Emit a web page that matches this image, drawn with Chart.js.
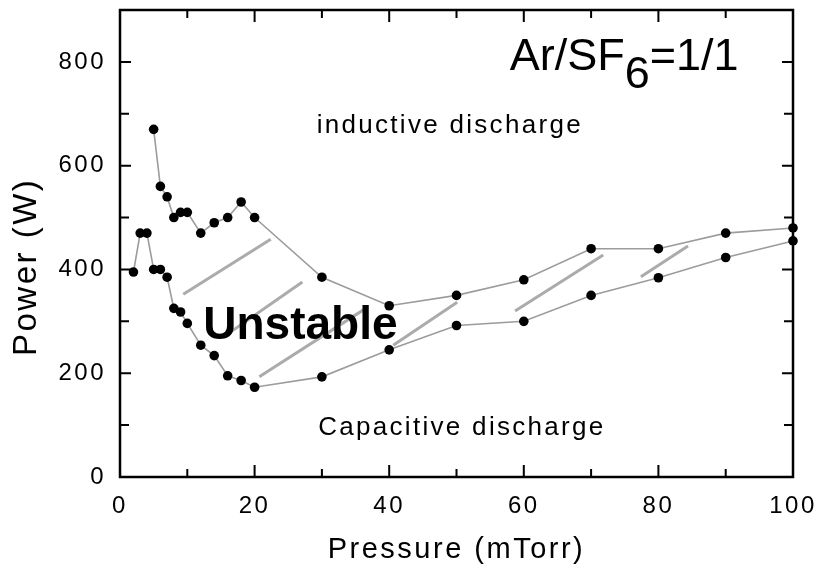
<!DOCTYPE html>
<html>
<head>
<meta charset="utf-8">
<script src="https://cdn.jsdelivr.net/npm/chart.js@4/dist/chart.umd.min.js"></script>
<style>
  html, body { margin: 0; padding: 0; background: #fff; }
  canvas { display: block; }
</style>
</head>
<body>
<canvas id="powerChart" width="819" height="566"></canvas>
<script>
// Boundary between inductive and capacitive discharge (Ar/SF6 = 1/1)
const upperPressure = [5, 6, 7, 8, 9, 10, 12, 14, 16, 18, 20, 30, 40, 50, 60, 70, 80, 90, 100];
const upperPower = [670, 560, 540, 500, 510, 510, 470, 490, 500, 530, 500, 385, 330, 350, 380, 440, 440, 470, 480];

const lowerPressure = [2, 3, 4, 5, 6, 7, 8, 9, 10, 12, 14, 16, 18, 20, 30, 40, 50, 60, 70, 80, 90, 100];
const lowerPower = [395, 470, 470, 400, 400, 385, 325, 318, 296, 254, 234, 195, 186, 173, 193, 245, 292, 300, 350, 384, 423, 455];

// hatching of the unstable region: [x1, y1, x2, y2]
const hatchLines = [
    [9.4, 352, 22.4, 458],
    [15.6, 272, 27.1, 376],
    [20.7, 193, 36.4, 324],
    [40.6, 254, 50.1, 337],
    [58.7, 320, 71.8, 428],
    [77.4, 386, 84.4, 445]
];

// axis ticks
const xTicks = [0, 20, 40, 60, 80, 100];
const xMinorTicks = [10, 30, 50, 70, 90];
const yTicks = [0, 200, 400, 600, 800];
const yMinorTicks = [100, 300, 500, 700];

const FONT = "'Liberation Sans', Arial, Helvetica, sans-serif";

// text placed inside the plot (data coordinates)
const notes = [
    { text: 'inductive discharge', x: 49.0, y: 662, size: 26, spacing: '2.3px', weight: 'normal' },
    { text: 'Capacitive discharge', x: 50.8, y: 81, size: 26, spacing: '2.3px', weight: 'normal' },
    { text: 'Unstable', x: 26.8, y: 266, size: 46, spacing: '0px', weight: 'bold' }
];
const ratioLabel = { x: 57.9, y: 784, size: 45 };

function toPoints(xs, ys) {
    return xs.map((v, i) => ({ x: v, y: ys[i] }));
}

const curveStyle = {
    showLine: true,
    borderColor: '#9c9c9c',
    borderWidth: 1.6,
    pointRadius: 4.8,
    pointHoverRadius: 4.8,
    pointBackgroundColor: '#000',
    pointBorderWidth: 0,
    clip: false,
    order: 1
};

const datasets = [
    { label: 'upper', data: toPoints(upperPressure, upperPower), ...curveStyle },
    { label: 'lower', data: toPoints(lowerPressure, lowerPower), ...curveStyle }
];
hatchLines.forEach((l, i) => {
    datasets.push({
        label: 'hatch' + i,
        data: [{ x: l[0], y: l[1] }, { x: l[2], y: l[3] }],
        showLine: true,
        borderColor: '#ababab',
        borderWidth: 3,
        pointRadius: 0,
        clip: false,
        order: 2
    });
});

// frame with inward ticks on all four sides
const frame = {
    id: 'frame',
    beforeDraw(chart) {
        chart.ctx.letterSpacing = '2.5px';
    },
    beforeDatasetsDraw(chart) {
        const { ctx, chartArea: a, scales: { x, y } } = chart;
        ctx.save();
        ctx.strokeStyle = '#000';
        ctx.lineWidth = 2.5;
        ctx.strokeRect(a.left, a.top, a.right - a.left, a.bottom - a.top);
        ctx.lineWidth = 2;
        ctx.beginPath();
        const xMark = (v, len) => {
            const px = x.getPixelForValue(v);
            ctx.moveTo(px, a.bottom); ctx.lineTo(px, a.bottom - len);
            ctx.moveTo(px, a.top); ctx.lineTo(px, a.top + len);
        };
        const yMark = (v, len) => {
            const py = y.getPixelForValue(v);
            ctx.moveTo(a.left, py); ctx.lineTo(a.left + len, py);
            ctx.moveTo(a.right, py); ctx.lineTo(a.right - len, py);
        };
        xTicks.forEach(v => xMark(v, 12));
        xMinorTicks.forEach(v => xMark(v, 8));
        yTicks.forEach(v => yMark(v, 11));
        yMinorTicks.forEach(v => yMark(v, 9));
        ctx.stroke();
        ctx.restore();
    },
    afterDatasetsDraw(chart) {
        const { ctx, scales: { x, y } } = chart;
        ctx.save();
        ctx.fillStyle = '#000';
        ctx.textBaseline = 'alphabetic';
        notes.forEach(n => {
            ctx.font = `${n.weight} ${n.size}px ${FONT}`;
            ctx.letterSpacing = n.spacing;
            ctx.textAlign = 'center';
            ctx.fillText(n.text, x.getPixelForValue(n.x), y.getPixelForValue(n.y));
        });
        // Ar/SF6=1/1 with the lowered 6
        ctx.font = `${ratioLabel.size}px ${FONT}`;
        ctx.letterSpacing = '0px';
        ctx.textAlign = 'left';
        let px = x.getPixelForValue(ratioLabel.x);
        const py = y.getPixelForValue(ratioLabel.y);
        ctx.fillText('Ar/SF', px, py);
        px += ctx.measureText('Ar/SF').width;
        ctx.fillText('6', px, py + 18);
        px += ctx.measureText('6').width;
        ctx.fillText('=1/1', px, py);
        ctx.restore();
    }
};

const ctx = document.getElementById('powerChart').getContext('2d');
new Chart(ctx, {
    type: 'scatter',
    data: { datasets: datasets },
    options: {
        responsive: false,
        animation: false,
        events: [],
        layout: { padding: { top: 10, right: 26, left: 0, bottom: 0 } },
        plugins: {
            legend: { display: false },
            tooltip: { enabled: false }
        },
        scales: {
            x: {
                type: 'linear',
                min: 0,
                max: 100,
                afterBuildTicks: s => { s.ticks = xTicks.map(v => ({ value: v })); },
                afterFit: s => { s.height = 89; s.paddingLeft = 0; s.paddingRight = 0; },
                grid: { display: false, drawTicks: false },
                border: { display: false },
                ticks: {
                    color: '#000',
                    padding: 15,
                    maxRotation: 0,
                    autoSkip: false,
                    font: { family: FONT, size: 24 }
                },
                title: {
                    display: true,
                    text: 'Pressure (mTorr)',
                    color: '#000',
                    font: { family: FONT, size: 29, lineHeight: 1 },
                    padding: { top: 0, bottom: 1.5 }
                }
            },
            y: {
                type: 'linear',
                min: 0,
                max: 900,
                afterBuildTicks: s => { s.ticks = yTicks.map(v => ({ value: v })); },
                afterFit: s => { s.width = 120; s.paddingTop = 0; s.paddingBottom = 0; },
                grid: { display: false, drawTicks: false },
                border: { display: false },
                ticks: {
                    color: '#000',
                    padding: 14,
                    font: { family: FONT, size: 24 }
                },
                title: {
                    display: true,
                    text: 'Power (W)    ',
                    color: '#000',
                    font: { family: FONT, size: 33, lineHeight: 1 },
                    padding: { top: 10, bottom: 0 }
                }
            }
        }
    },
    plugins: [frame]
});
</script>
</body>
</html>
